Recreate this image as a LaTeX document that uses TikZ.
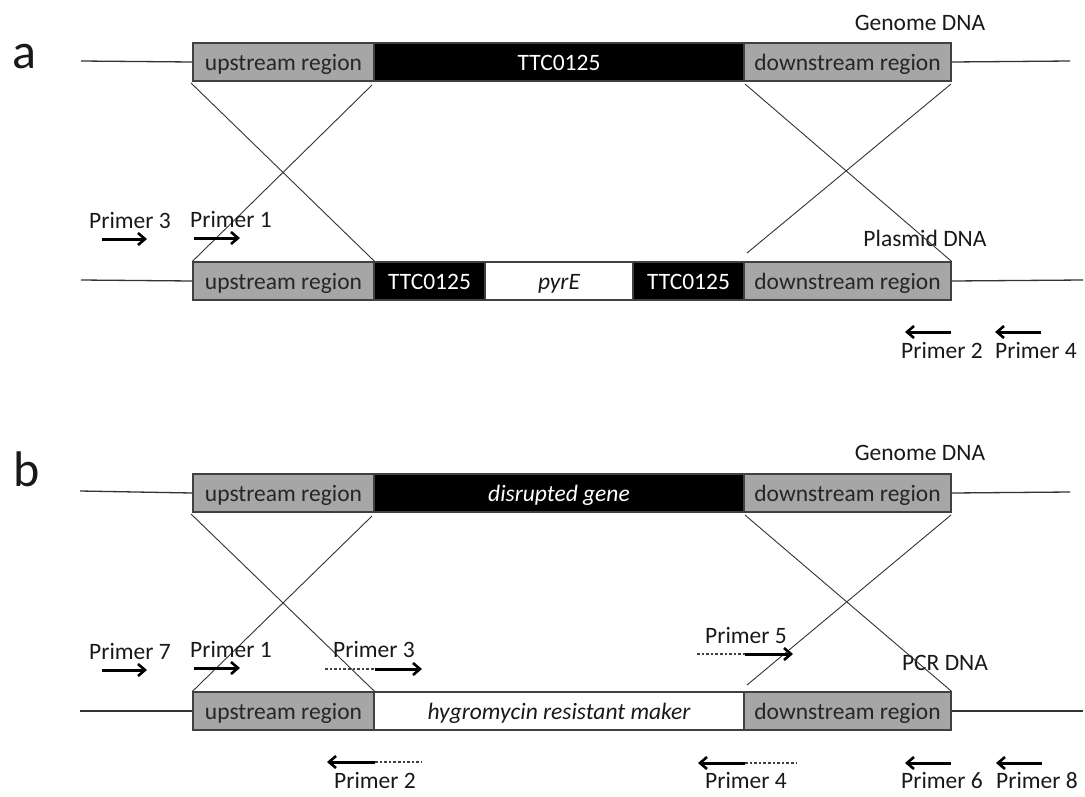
\documentclass[tikz,border=0pt]{standalone}
\usepackage{fontspec}
\setmainfont{Carlito}
\usetikzlibrary{arrows.meta}
\begin{document}
\begin{tikzpicture}[x=1pt,y=-1pt,
  every node/.style={font=\fontsize{23.5}{28}\selectfont, inner sep=0pt},
  seg/.style={draw=black!75, line width=1.2pt, minimum height=38pt, text height=18pt, text depth=2pt, anchor=center},
  gray seg/.style={seg, fill=black!35, text=black!85},
  black seg/.style={seg, fill=black, text=white},
  white seg/.style={seg, fill=white, text=black!90},
  dna/.style={draw=black!80, line width=1.3pt},
  cross/.style={draw=black!80, line width=0.9pt},
  primer/.style={line width=3pt, -{Straight Barb[length=7pt,width=12pt,line width=2.6pt]}},
  dots/.style={line width=2.6pt, dotted, draw=black!75},
  lbl/.style={anchor=base, text=black!90},
  panel/.style={font=\fontsize{50}{60}\selectfont, text=black!90}]
\useasboundingbox (0,0) rectangle (1085,796);
\fill[white] (0,0) rectangle (1085,796);

% ===== panel a =====
\node[panel] (pa) at (24,57) {a};
% genome row
\node[gray seg, minimum width=181pt] (aup1) at (283.5,62) {upstream region};
\node[black seg, minimum width=370pt] (agene) at (559,62) {TTC0125};
\node[gray seg, minimum width=207pt] (adn1) at (847.5,62) {downstream region};
\coordinate (al1) at (81,61);
\coordinate (ar1) at (1070,61);
\draw[dna] (al1) -- (aup1.west);
\draw[dna] (adn1.east) -- (ar1);
\node[lbl] (agen) at (920,30) {Genome DNA};
% plasmid row
\node[gray seg, minimum width=181pt] (aup2) at (283.5,281) {upstream region};
\node[black seg, minimum width=111pt] (attc1) at (429.5,281) {TTC0125};
\node[white seg, minimum width=148pt] (apyr) at (559,281) {\itshape pyrE};
\node[black seg, minimum width=111pt] (attc2) at (688.5,281) {TTC0125};
\node[gray seg, minimum width=207pt] (adn2) at (847.5,281) {downstream region};
\coordinate (al2) at (81,280);
\coordinate (ar2) at (1083,280);
\draw[dna] (al2) -- (aup2.west);
\draw[dna] (adn2.east) -- (ar2);
\node[lbl] (apla) at (925,246) {Plasmid DNA};
% crossing lines
\coordinate (ac1) at (191,83);
\coordinate (ac2) at (372,85);
\coordinate (ac3) at (745,84);
\coordinate (ac4) at (951,84);
\coordinate (ac5) at (747,253);
\draw[cross] (ac1) -- (aup2.north east);
\draw[cross] (ac2) -- (aup2.north west);
\draw[cross] (ac3) -- (adn2.north east);
\draw[cross] (ac4) -- (ac5);
% primers
\node[lbl] (ap3) at (130,228) {Primer 3};
\node[lbl] (ap1) at (231,227) {Primer 1};
\draw[primer] (102,239) -- (147,239);
\draw[primer] (194,238) -- (240,238);
\draw[primer] (951,332) -- (905,332);
\draw[primer] (1041,332) -- (995,332);
\node[lbl] (ap2) at (942,358) {Primer 2};
\node[lbl] (ap4) at (1036,358) {Primer 4};

% ===== panel b =====
\node[panel] (pb) at (27,469) {b};
% genome row
\node[gray seg, minimum width=181pt] (bup1) at (283.5,493) {upstream region};
\node[black seg, minimum width=370pt] (bgene) at (559,493) {\itshape disrupted gene};
\node[gray seg, minimum width=207pt] (bdn1) at (847.5,493) {downstream region};
\coordinate (bl1) at (80,491);
\coordinate (br1) at (1070,492);
\draw[dna] (bl1) -- (bup1.west);
\draw[dna] (bdn1.east) -- (br1);
\node[lbl] (bgen) at (920,460) {Genome DNA};
% PCR row
\node[gray seg, minimum width=181pt] (bup2) at (283.5,711) {upstream region};
\node[white seg, minimum width=370pt] (bhyg) at (559,711) {\itshape hygromycin resistant maker};
\node[gray seg, minimum width=207pt] (bdn2) at (847.5,711) {downstream region};
\coordinate (bl2) at (80,711);
\coordinate (br2) at (1083,711);
\draw[dna] (bl2) -- (bup2.west);
\draw[dna] (bdn2.east) -- (br2);
\node[lbl] (bpcr) at (945,670) {PCR DNA};
% crossing lines
\coordinate (bc1) at (191,514);
\coordinate (bc2) at (372,516);
\coordinate (bc3) at (745,515);
\coordinate (bc4) at (951,515);
\coordinate (bc5) at (747,685);
\draw[cross] (bc1) -- (bup2.north east);
\draw[cross] (bc2) -- (bup2.north west);
\draw[cross] (bc3) -- (bdn2.north east);
\draw[cross] (bc4) -- (bc5);
% primers
\node[lbl] (bp7) at (130,659) {Primer 7};
\node[lbl] (bp1) at (231,657) {Primer 1};
\node[lbl] (bp3) at (374,657) {Primer 3};
\node[lbl] (bp5) at (746,643) {Primer 5};
\draw[primer] (102,670) -- (147,670);
\draw[primer] (194,668) -- (240,668);
\draw[dots] (325,669) -- (375,669);
\draw[primer] (375,669) -- (422,669);
\draw[dots] (697,654) -- (745,654);
\draw[primer] (745,654) -- (793,654);
\draw[primer] (375,762) -- (327,762);
\draw[dots] (375,762) -- (422,762);
\draw[primer] (745,763) -- (698,763);
\draw[dots] (745,763) -- (797,763);
\draw[primer] (951,763) -- (905,763);
\draw[primer] (1042,763) -- (996,763);
\node[lbl] (bp2) at (375,788) {Primer 2};
\node[lbl] (bp4) at (746,788) {Primer 4};
\node[lbl] (bp6) at (942,788) {Primer 6};
\node[lbl] (bp8) at (1037,788) {Primer 8};
\end{tikzpicture}
\end{document}
